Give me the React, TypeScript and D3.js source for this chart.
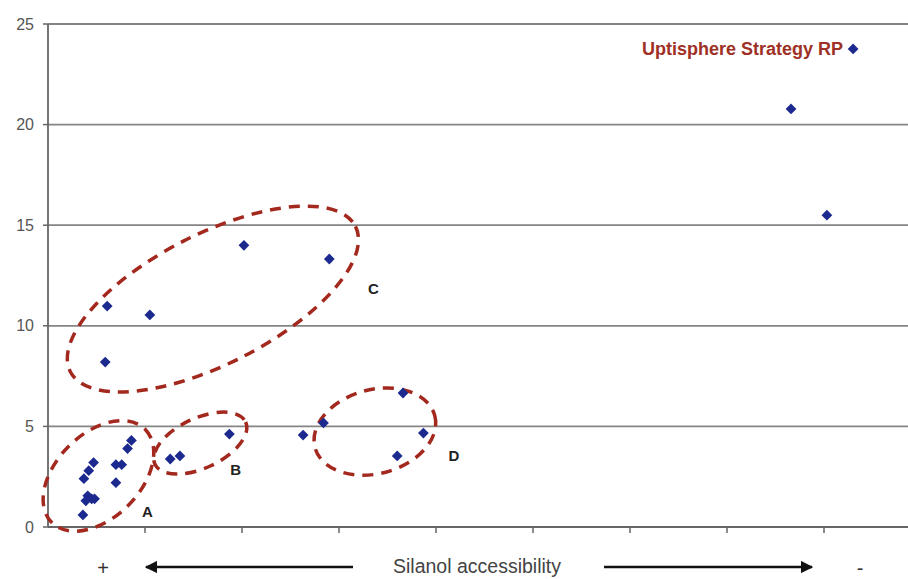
import * as d3 from "d3";

// scatter values (x: position along silanol axis, y: value)
const pointX = [0.36, 0.37, 0.42, 0.47, 0.41, 0.45, 0.39, 0.48, 0.70, 0.76, 0.70, 0.82, 0.86,
  1.26, 1.36, 1.87, 2.63, 2.84, 3.66, 3.87, 3.60,
  0.61, 1.05, 2.02, 2.90, 0.59, 8.30, 7.66, 8.03];
const pointY = [0.6, 2.4, 2.8, 3.2, 1.55, 1.4, 1.3, 1.4, 3.1, 3.1, 2.2, 3.9, 4.3,
  3.38, 3.53, 4.62, 4.57, 5.17, 6.66, 4.67, 3.53,
  10.98, 10.54, 14.0, 13.32, 8.2, 23.76, 20.78, 15.5];

const yTicks = [0, 5, 10, 15, 20, 25];
const xTicks = [1, 2, 3, 4, 5, 6, 7, 8];

// group outlines: centre in data units
const groupNames = ["A", "B", "C", "D"];
const groupCx = [0.52, 1.57, 1.70, 3.37];
const groupCy = [2.54, 4.17, 11.33, 4.74];
const groupLabelX = [0.97, 1.88, 3.30, 4.13];
const groupLabelY = [0.5, 2.6, 11.6, 3.3];

const width = 908;
const height = 579;

export default function App() {
  const x = d3.scaleLinear().domain([0, 9]).range([48, 921]);
  const y = d3.scaleLinear().domain([0, 25]).range([527, 24]);
  const diamond = d3.symbol().type(d3.symbolSquare).size(58)();

  const shapes = [
    { rx: 66, ry: 42, rot: -45 },
    { rx: 50, ry: 25, rot: -25 },
    { rx: 160, ry: 65, rot: -27 },
    { rx: 62, ry: 42, rot: -15 },
  ];

  return (
    <svg width={width} height={height} style={{ position: "absolute", left: 0, top: 0, background: "#fff" }}
      fontFamily="'Liberation Sans', Arial, sans-serif">
      {yTicks.map((t) => (
        <g key={t}>
          {t > 0 && <line x1={48} x2={width} y1={y(t)} y2={y(t)} stroke="#858585" strokeWidth={1.8} />}
          <line x1={43} x2={48} y1={y(t)} y2={y(t)} stroke="#666" strokeWidth={1.5} />
          <text x={34} y={y(t)} dy="0.35em" textAnchor="end" fontSize={16} fill="#555">{t}</text>
        </g>
      ))}
      <line x1={48} x2={48} y1={y(25)} y2={y(0)} stroke="#666" strokeWidth={1.8} />
      <line x1={48} x2={width} y1={y(0)} y2={y(0)} stroke="#666" strokeWidth={1.8} />
      {xTicks.map((t) => (
        <line key={t} x1={x(t)} x2={x(t)} y1={y(0)} y2={y(0) + 6} stroke="#666" strokeWidth={1.5} />
      ))}

      {groupNames.map((g, i) => (
        <g key={g}>
          <ellipse cx={0} cy={0} rx={shapes[i].rx} ry={shapes[i].ry}
            transform={`translate(${x(groupCx[i])},${y(groupCy[i])}) rotate(${shapes[i].rot})`}
            fill="none" stroke="#a3281e" strokeWidth={3.5} strokeDasharray="11 8" />
          <text x={x(groupLabelX[i])} y={y(groupLabelY[i])} fontSize={15} fontWeight="bold" fill="#222">{g}</text>
        </g>
      ))}

      {pointX.map((px, i) => (
        <path key={i} d={diamond} transform={`translate(${x(px)},${y(pointY[i])}) rotate(45)`} fill="#1c2a8f" />
      ))}

      <text x={x(8.30) - 10} y={y(23.76)} dy="0.35em" textAnchor="end" fontSize={18} fontWeight="bold" fill="#9e3025">
        Uptisphere Strategy RP
      </text>

      <defs>
        <marker id="ah" viewBox="0 0 10 10" refX={9} refY={5} markerWidth={5} markerHeight={5} orient="auto-start-reverse">
          <path d="M0,0L10,5L0,10z" fill="#111" />
        </marker>
      </defs>
      <text x={103} y={575} textAnchor="middle" fontSize={20} fill="#333">+</text>
      <line x1={353} x2={146} y1={567} y2={567} stroke="#111" strokeWidth={2.5} markerEnd="url(#ah)" />
      <text x={477} y={573} textAnchor="middle" fontSize={19.5} fill="#444">Silanol accessibility</text>
      <line x1={604} x2={812} y1={567} y2={567} stroke="#111" strokeWidth={2.5} markerEnd="url(#ah)" />
      <text x={860} y={575} textAnchor="middle" fontSize={20} fill="#333">-</text>
    </svg>
  );
}
